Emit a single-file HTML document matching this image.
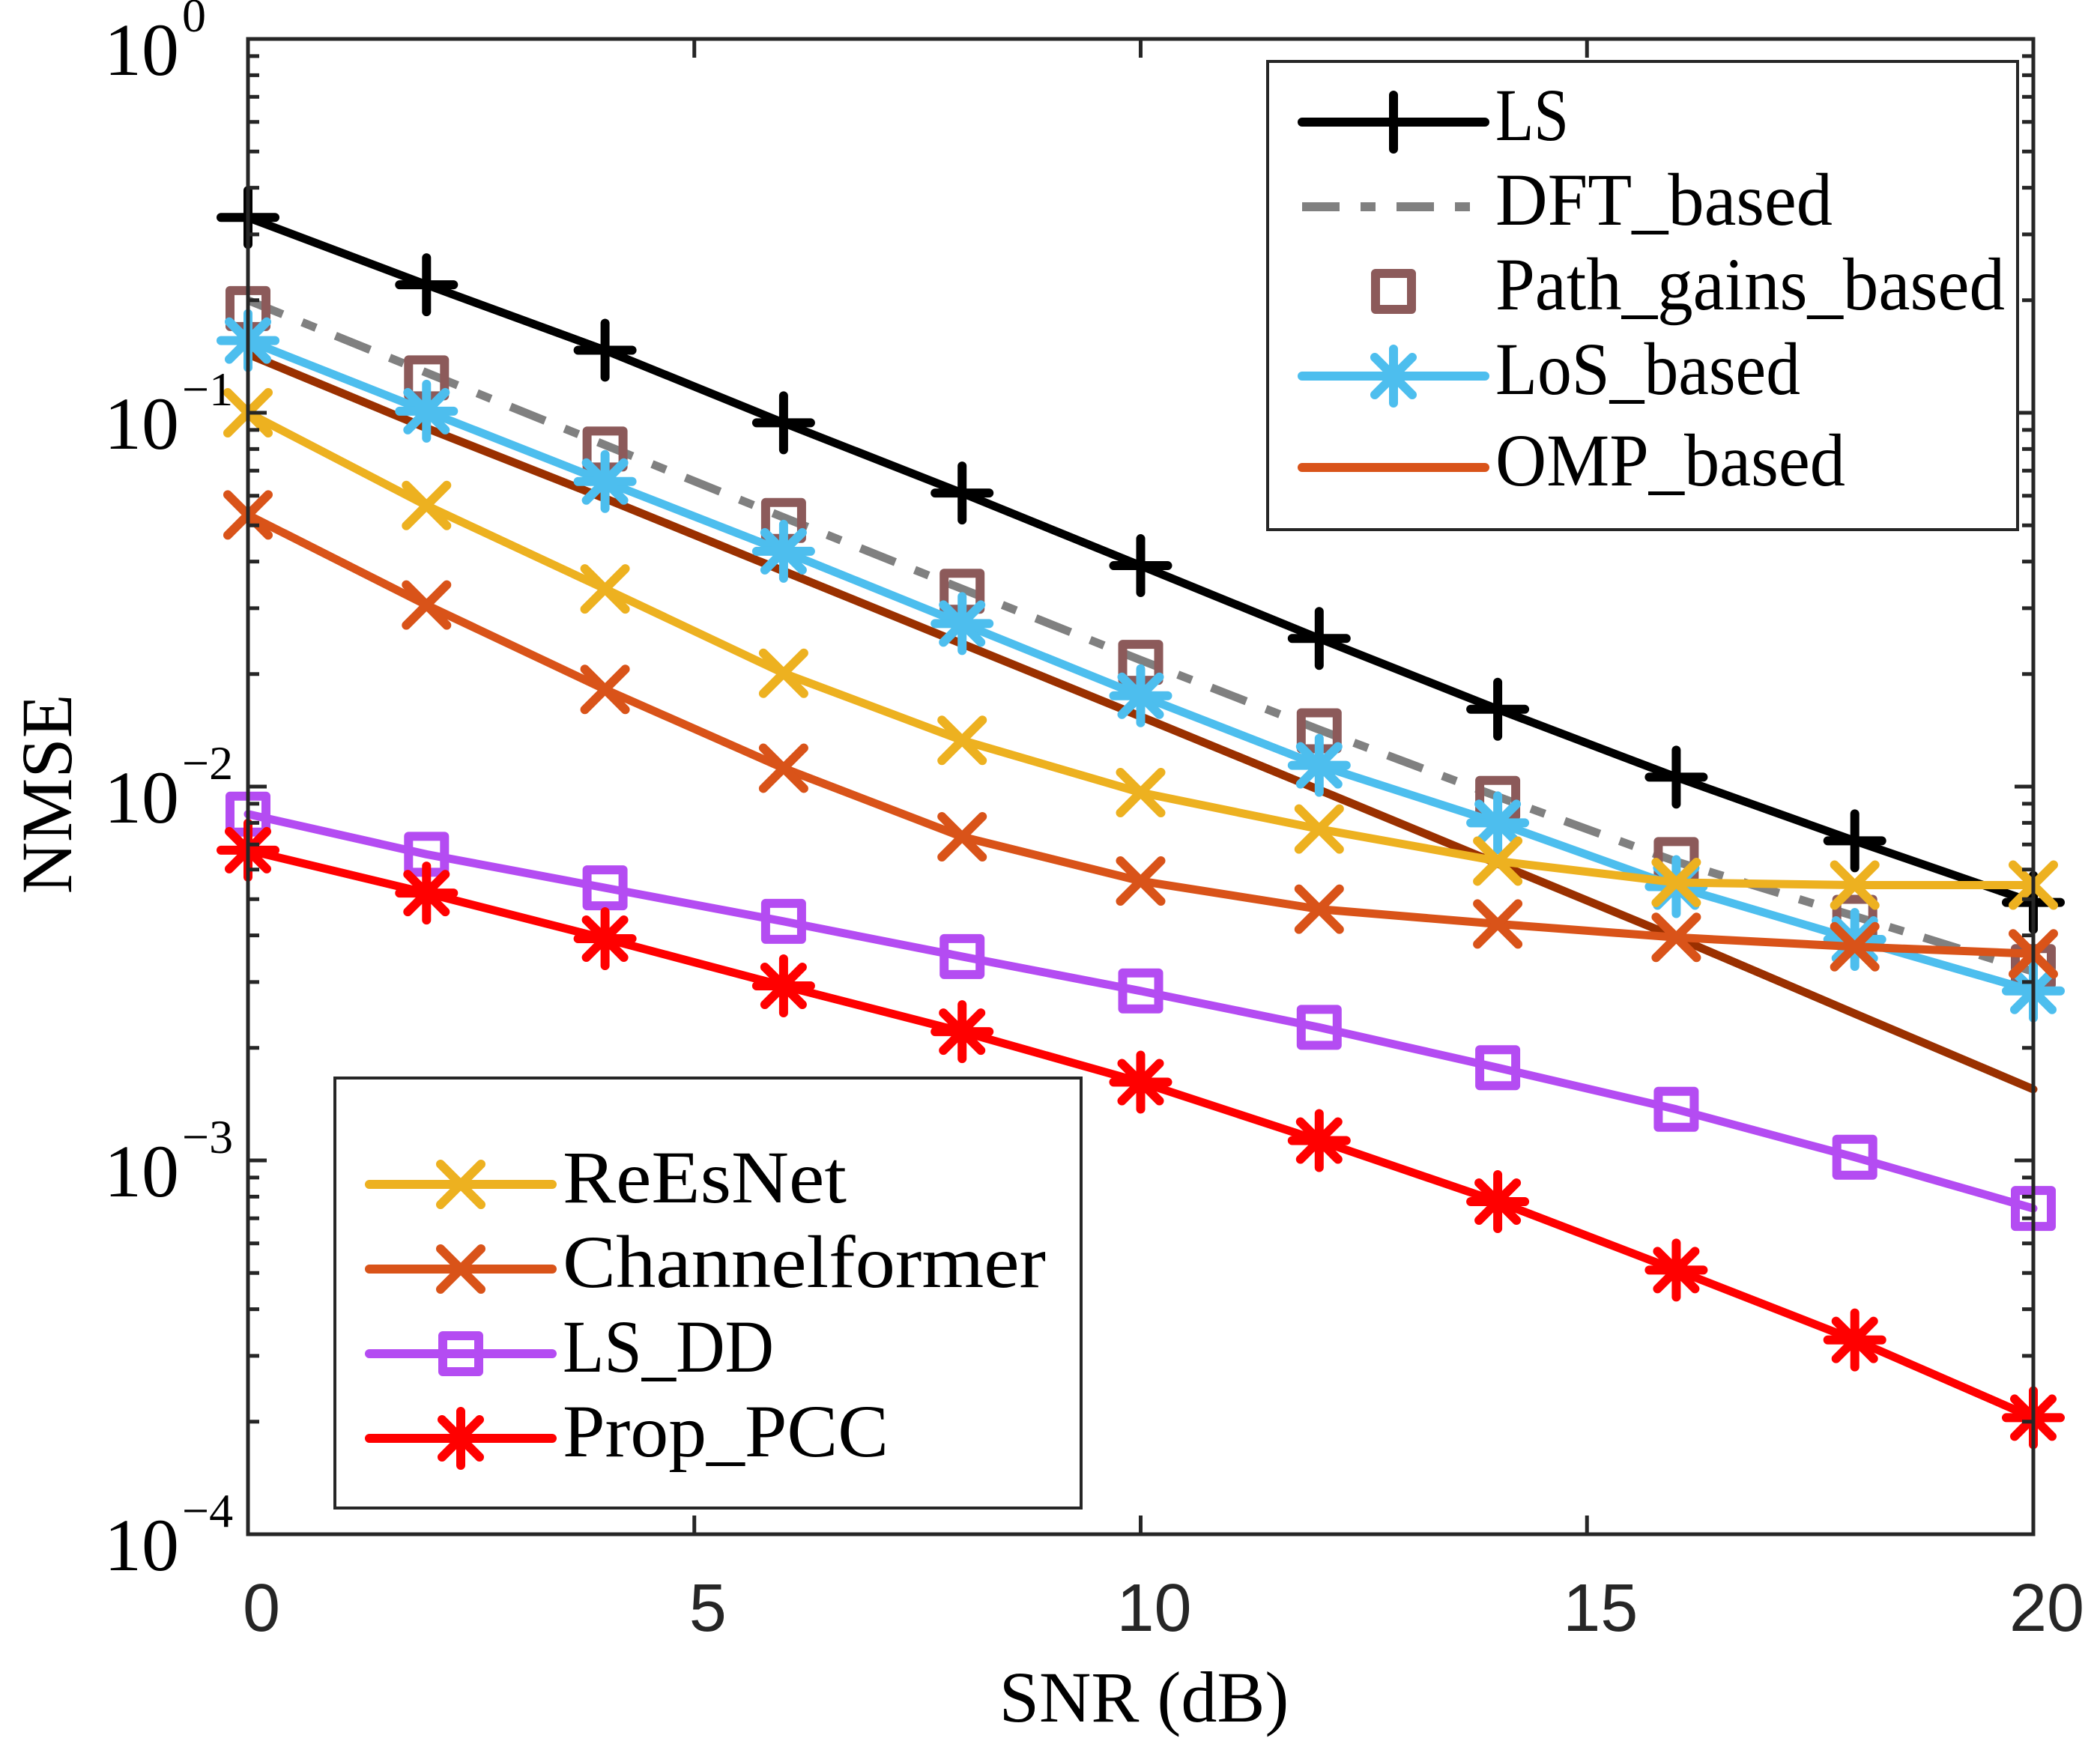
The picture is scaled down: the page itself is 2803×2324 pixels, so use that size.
<!DOCTYPE html>
<html><head><meta charset="utf-8">
<style>
html,body{margin:0;padding:0;background:#fff;}
svg{display:block;}
.serif{font-family:"Liberation Serif",serif;fill:#000;}
.sans{font-family:"Liberation Sans",sans-serif;fill:#262626;}
</style></head>
<body>
<svg id="chart" width="2803" height="2324" viewBox="0 0 2803 2324" xmlns="http://www.w3.org/2000/svg">
<rect x="0" y="0" width="2803" height="2324" fill="#fff"/>
<g id="plot"></g>
<g id="axes"></g>
<g id="legends"></g>
</svg>
<script>
const snr = [0,2,4,6,8,10,12,14,16,18,20];
const lsVals = [0.333,0.22,0.147,0.094,0.061,0.039,0.0249,0.0161,0.0106,0.00716,0.0049];
const dftVals = [0.20,0.128,0.082,0.0525,0.0338,0.0218,0.0142,0.0094,0.0063,0.0045,0.0032];
const pathVals = [0.19,0.124,0.080,0.0515,0.0333,0.0215,0.0141,0.0093,0.00638,0.00447,0.0033];
const losVals = [0.156,0.101,0.0655,0.0426,0.0273,0.0175,0.0114,0.0080,0.0054,0.0039,0.00284];
const ompVals = [0.1435,0.091,0.059,0.0377,0.0241,0.0154,0.0098,0.00622,0.00395,0.00247,0.00155];
const reesVals = [0.1,0.0565,0.0338,0.0201,0.0133,0.00964,0.0077,0.00632,0.00554,0.00545,0.00545];
const cfVals = [0.0533,0.0306,0.0182,0.0112,0.00734,0.00559,0.0047,0.00429,0.00395,0.00373,0.00357];
const lsddVals = [0.00844,0.00659,0.00536,0.00436,0.00351,0.00284,0.00227,0.00177,0.00137,0.00102,0.000744];
const pccVals = [0.00676,0.00519,0.00392,0.00293,0.00221,0.00162,0.00113,0.000776,0.000509,0.000331,0.000205];
const xTicks = [0,5,10,15,20];
const yExps = [0,-1,-2,-3,-4];

const NS="http://www.w3.org/2000/svg";
const L=331,R=2714,T=52,B=2048;
const X=v=>L+(v-0)/20*(R-L);
const Y=v=>T+(-Math.log10(v))/4*(B-T);
function mk(tag,attrs,parent){const e=document.createElementNS(NS,tag);for(const k in attrs)e.setAttribute(k,attrs[k]);parent.appendChild(e);return e;}
const plot=document.getElementById('plot'),axes=document.getElementById('axes'),leg=document.getElementById('legends');

function marker(type,cx,cy,color,parent){
  const g=mk('g',{},parent);
  
  
  const st={stroke:color,'stroke-width':12,'stroke-linecap':'round',fill:'none'};
  if(type==='plus'){const s=36;mk('path',Object.assign({d:`M${cx-s},${cy}H${cx+s}M${cx},${cy-s}V${cx?cy+s:0}`},st),g);}
  else if(type==='square'){const s=24;mk('rect',Object.assign({x:cx-s,y:cy-s,width:2*s,height:2*s,'stroke-linejoin':'round'},st),g);}
  else if(type==='x'){const s=27;mk('path',Object.assign({d:`M${cx-s},${cy-s}L${cx+s},${cy+s}M${cx-s},${cy+s}L${cx+s},${cy-s}`},st),g);}
  else if(type==='star'){const s=36,d=25;mk('path',Object.assign({d:`M${cx-s},${cy}H${cx+s}M${cx},${cy-s}V${cy+s}M${cx-d},${cy-d}L${cx+d},${cy+d}M${cx-d},${cy+d}L${cx+d},${cy-d}`},st),g);}
  return g;
}
function series(name,vals,color,width,dash,mtype,mcolor,drawLine){
  const g=mk('g',{},plot);
  
  
  if(drawLine){
    const pts=vals.map((v,i)=>X(snr[i])+','+Y(v)).join(' ');
    const pl=mk('polyline',{points:pts,fill:'none',stroke:color,'stroke-width':width,'stroke-linejoin':'round','stroke-linecap':dash?'butt':'round'},g);
    if(dash)pl.setAttribute('stroke-dasharray',dash);
    
    
  }
  if(mtype)vals.forEach((v,i)=>marker(mtype,X(snr[i]),Y(v),mcolor||color,g));
}
series('omp',ompVals,'#9A3000',11,null,null,null,true);
series('dft',dftVals,'#808080',11,'50 28 20 28',null,null,true);
series('path-gains',pathVals,'#8C5A5A',0,null,'square','#8C5A5A',false);
series('ls',lsVals,'#000',11,null,'plus',null,true);
series('los',losVals,'#4DBEEE',11,null,'star',null,true);
series('reesnet',reesVals,'#EDB120',11,null,'x',null,true);
series('channelformer',cfVals,'#D95319',11,null,'x',null,true);
series('ls-dd',lsddVals,'#B44CF2',11,null,'square',null,true);
series('prop-pcc',pccVals,'#FF0000',11,null,'star',null,true);

// axes box
const box=mk('rect',{x:L,y:T,width:R-L,height:B-T,fill:'none',stroke:'#262626','stroke-width':5},axes);

// y ticks
yExps.forEach(e=>{
  const y=Y(Math.pow(10,e));
  mk('path',{d:`M${L},${y}h25M${R},${y}h-25`,stroke:'#262626','stroke-width':5},axes);
  const t=mk('text',{x:239,y:y+48,'font-size':100,'text-anchor':'end',class:'serif'},axes);
  t.textContent='10';
  
  const s=mk('text',{x:243,y:y-10,'font-size':64,class:'serif'},axes);
  s.textContent=e===0?'0':'\u2212'+(-e);
  
  if(e>-4)for(let m=2;m<=9;m++){const yy=Y(m*Math.pow(10,e-1));mk('path',{d:`M${L},${yy}h15M${R},${yy}h-15`,stroke:'#262626','stroke-width':5},axes);}
});
xTicks.forEach(v=>{
  const x=X(v);
  mk('path',{d:`M${x},${B}v-25M${x},${T}v25`,stroke:'#262626','stroke-width':5},axes);
  const t=mk('text',{x:x+18,y:2177,'font-size':90,'text-anchor':'middle',class:'sans'},axes);
  t.textContent=v;
  
});
const xt=mk('text',{x:1527,y:2298,'font-size':96,'text-anchor':'middle',class:'serif'},axes);
xt.textContent='SNR (dB)';
const yt=mk('text',{x:0,y:0,'font-size':96,'text-anchor':'middle',class:'serif',transform:'translate(95,1060) rotate(-90)'},axes);
yt.textContent='NMSE';

function legend(name,bx,by,bw,bh,entries){
  const g=mk('g',{},leg);
  
  mk('rect',{x:bx,y:by,width:bw,height:bh,fill:'#fff',stroke:'#262626','stroke-width':4},g);
  entries.forEach(en=>{
    const eg=mk('g',{},g);
    
    const ly=en.base-24,x1=bx+46,x2=bx+290,cx=(x1+x2)/2;
    if(en.line){const p=mk('path',{d:`M${x1},${ly}H${x2}`,stroke:en.color,'stroke-width':12,'stroke-linecap':en.dash?'butt':'round'},eg);if(en.dash)p.setAttribute('stroke-dasharray',en.dash);}
    if(en.m)marker(en.m,cx,ly,en.color,eg);
    const t=mk('text',{x:bx+304,y:en.base,'font-size':100,class:'serif',textLength:en.w,lengthAdjust:'spacingAndGlyphs'},eg);
    t.textContent=en.label;
  });
}
legend('legend-top',1692,82,1001,625,[
 {label:'LS',base:187,color:'#000',line:1,m:'plus',w:98},
 {label:'DFT_based',base:300,color:'#808080',line:1,dash:'50 28 20 28',w:450},
 {label:'Path_gains_based',base:413,color:'#8C5A5A',m:'square',w:680},
 {label:'LoS_based',base:526,color:'#4DBEEE',line:1,m:'star',w:407},
 {label:'OMP_based',base:648,color:'#D95319',line:1,w:467}
]);
legend('legend-bottom',447,1439,996,574,[
 {label:'ReEsNet',base:1605,color:'#EDB120',line:1,m:'x',w:379},
 {label:'Channelformer',base:1718,color:'#D95319',line:1,m:'x',w:645},
 {label:'LS_DD',base:1831,color:'#B44CF2',line:1,m:'square',w:282},
 {label:'Prop_PCC',base:1944,color:'#FF0000',line:1,m:'star',w:435}
]);
</script>
</body></html>
